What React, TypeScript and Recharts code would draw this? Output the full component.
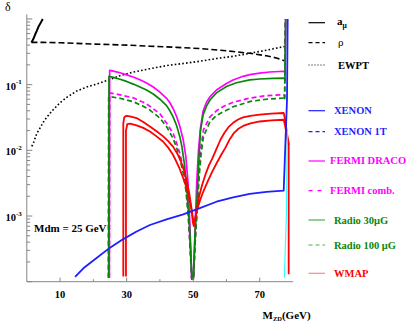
import * as React from "react"
import { LineChart, Line, XAxis, YAxis } from "recharts"

// Dark-matter limits on δ versus M_ZD (Mdm = 25 GeV)

type Pt = [number, number]

const X_TICKS = [10, 20, 30, 40, 50, 60, 70]
const X_LABELS = [10, 30, 50, 70]
const Y_DECADES = [1e-4, 1e-3, 1e-2, 1e-1, 1]
const Y_MINOR_STEPS = [2, 3, 4, 5, 6, 7, 8, 9]
const Y_LABELS: Record<string, string> = { "0.1": "-1", "0.01": "-2", "0.001": "-3" }

const A_MU: Pt[] = [[1.4, 0.44], [2, 0.5], [2.5, 0.58], [3, 0.66], [3.5, 0.76], [4.2, 0.88], [4.8, 1.0]]

const RHO: Pt[] = [
  [1.4, 0.44], [5, 0.44], [10, 0.435], [20, 0.415], [30, 0.4], [37, 0.385], [45, 0.37], [52, 0.355],
  [58, 0.335], [62, 0.32], [67, 0.3], [72, 0.275], [75, 0.255], [77.8, 0.227],
]

const EWPT: Pt[] = [
  [1.5, 0.0115], [2, 0.013], [3, 0.018], [4, 0.022], [5, 0.027], [6, 0.032], [8, 0.042], [10, 0.053],
  [12, 0.064], [15, 0.08], [18, 0.092], [22, 0.106], [25, 0.12], [28, 0.137], [32, 0.155], [37, 0.175],
  [42, 0.195], [47, 0.21], [52, 0.227], [57, 0.25], [62, 0.27], [67, 0.3], [72, 0.335], [77.8, 0.385],
]

const XENON: Pt[] = [
  [14.5, 1.18e-4], [17, 1.6e-4], [20, 2.1e-4], [25, 3.3e-4], [29, 4.45e-4], [33, 5.8e-4], [37, 7.3e-4],
  [42, 8.9e-4], [47, 1.06e-3], [52, 1.32e-3], [57, 1.65e-3], [62, 1.93e-3], [67, 2.17e-3], [72, 2.33e-3],
  [77.2, 2.43e-3], [78.2, 0.06], [78.4, 1.0],
]

const FERMI_DRACO: Pt[] = [
  [24.8, 1.15e-4], [24.9, 0.165], [26, 0.161], [28, 0.152], [30, 0.141], [32, 0.131], [34, 0.119],
  [36, 0.106], [38, 0.092], [40, 0.077], [42, 0.062], [43, 0.053], [44, 0.043], [45, 0.033], [46, 0.023],
  [47, 0.0145], [47.8, 0.008], [48.4, 0.0035], [48.9, 0.001], [49.3, 3e-4], [49.6, 1.1e-4],
  [50.1, 1.1e-4], [50.4, 3e-4], [50.7, 0.001], [51.1, 0.0035], [51.6, 0.01], [52.2, 0.022], [53, 0.04],
  [54, 0.054], [55, 0.065], [57, 0.083], [60, 0.104], [62, 0.118], [65, 0.134], [67, 0.142], [70, 0.15],
  [73, 0.156], [77.3, 0.16], [77.6, 0.15], [77.8, 1.0],
]

const FERMI_COMB: Pt[] = [
  [24.8, 1.15e-4], [24.9, 0.075], [28, 0.07], [32, 0.063], [35, 0.054], [37, 0.047], [40, 0.036],
  [42, 0.026], [44, 0.018], [45, 0.013], [46, 0.009], [47, 0.0055], [47.8, 0.003], [48.5, 0.0012],
  [49, 4e-4], [49.5, 1.1e-4], [50.1, 1.1e-4], [50.6, 4e-4], [51.1, 0.0012], [51.8, 0.005], [52.3, 0.011],
  [53.1, 0.0206], [55, 0.032], [57, 0.04], [59.2, 0.047], [62, 0.054], [67.2, 0.0627], [72, 0.068],
  [77.2, 0.0704], [77.5, 0.065], [77.7, 1.0],
]

const RADIO_30: Pt[] = [
  [24.6, 1.15e-4], [24.7, 0.134], [26, 0.129], [28, 0.121], [30, 0.112], [32, 0.102], [34, 0.092],
  [36, 0.083], [38, 0.072], [40, 0.06], [42, 0.048], [43, 0.04], [44, 0.032], [45, 0.024], [46, 0.016],
  [46.6, 0.0115], [47.4, 0.006], [48.2, 0.0022], [48.9, 7e-4], [49.6, 1.1e-4], [50.0, 1.1e-4],
  [50.6, 6e-4], [51.2, 0.002], [51.7, 0.007], [52.2, 0.02], [53, 0.035], [54, 0.047], [55.1, 0.059],
  [57, 0.075], [60, 0.094], [63, 0.107], [67, 0.118], [70, 0.122], [74, 0.125], [77.3, 0.126],
  [77.6, 0.12], [77.8, 1.0],
]

const RADIO_100: Pt[] = [
  [24.5, 1.15e-4], [24.6, 0.066], [28, 0.062], [32, 0.055], [35, 0.047], [37, 0.041], [40, 0.031],
  [42, 0.023], [44, 0.015], [45, 0.011], [46, 0.0075], [47, 0.0045], [47.8, 0.0025], [48.5, 0.001],
  [49, 4e-4], [49.6, 1.1e-4], [50.1, 1.1e-4], [50.6, 4e-4], [51.1, 0.001], [51.8, 0.004], [52.4, 0.009],
  [53.1, 0.0163], [55, 0.027], [57, 0.034], [59.2, 0.039], [62, 0.046], [67.2, 0.0557], [72, 0.06],
  [77.2, 0.0627], [77.5, 0.058], [77.7, 1.0],
]

const WMAP_UPPER: Pt[] = [
  [29, 1.2e-4], [29, 0.026], [29.3, 0.032], [29.9, 0.0336], [31, 0.033], [33, 0.031], [35, 0.027],
  [37, 0.0231], [39, 0.0195], [41, 0.0163], [42.5, 0.0138], [44, 0.0113], [45.3, 0.0088], [46.4, 0.0066],
  [47.4, 0.0047], [48.2, 0.0032], [48.9, 0.0021], [49.5, 0.0013], [49.9, 8e-4], [50.2, 7e-4],
  [50.6, 9e-4], [51.1, 0.0013], [51.8, 0.002], [52.7, 0.003], [53.7, 0.0043], [54.8, 0.006],
  [55.8, 0.0076], [57, 0.0105], [58.2, 0.0145], [59.4, 0.0185], [60.6, 0.0225], [62, 0.0262],
  [63.5, 0.0295], [65, 0.0317], [67.2, 0.0336], [70, 0.035], [73.5, 0.0362], [77.2, 0.037],
  [77.6, 0.03], [78.2, 0.018], [78.7, 0.013], [78.7, 1.3e-4],
]

const WMAP_LOWER: Pt[] = [
  [29.8, 1.2e-4], [29.8, 0.02], [30.2, 0.025], [31, 0.0255], [33, 0.024], [35, 0.022], [37, 0.0194],
  [39, 0.0163], [41, 0.0135], [42.5, 0.011], [43.8, 0.0088], [44.8, 0.007], [45.9, 0.0053],
  [46.9, 0.0039], [47.8, 0.0029], [48.6, 0.0021], [49.2, 0.0015], [49.7, 0.0011], [50.1, 8e-4],
  [50.6, 9e-4], [51.1, 0.0012], [52, 0.0017], [53.1, 0.0024], [54.4, 0.0034], [55.7, 0.0047],
  [57, 0.0063], [58.4, 0.0085], [59.7, 0.011], [61, 0.0148], [62.3, 0.0185], [63.6, 0.0213],
  [65, 0.0235], [67.2, 0.0258], [70, 0.0275], [73.5, 0.0286], [77.2, 0.0292], [77.6, 0.024],
  [78.2, 0.016], [78.7, 0.012],
]

const CYAN_EDGE: Pt[] = [[77.4, 1.15e-4], [78.0, 1e-3], [78.3, 0.02]]

const FRAME = "#858585"
const BLUE = "#1f1fff"
const MAGENTA = "#ff00ff"
const GREEN = "#0a870a"
const RED = "#ff0000"
const FONT = "'Liberation Serif', 'Times New Roman', serif"

const yTicks: number[] = []
Y_DECADES.forEach((d) => {
  yTicks.push(d)
  if (d < 1) Y_MINOR_STEPS.forEach((m) => yTicks.push(d * m))
})

const rows = (pts: Pt[]) => pts.map(([x, y]) => ({ x, y }))

const isDecade = (v: number) => Y_DECADES.some((d) => Math.abs(v - d) < d * 1e-6)

function BottomTick(props: any) {
  const { x, y, payload } = props
  const major = X_LABELS.includes(payload.value)
  return (
    <g>
      <line x1={x} y1={y} x2={x} y2={y - (major ? 4 : 2.5)} stroke={FRAME} />
      {major && (
        <text x={x} y={y + 16} textAnchor="middle" fontFamily={FONT} fontWeight="bold" fontSize={10.5} fill="#000">
          {payload.value}
        </text>
      )}
    </g>
  )
}

function TopTick(props: any) {
  const { x, y, payload } = props
  const major = X_LABELS.includes(payload.value)
  return <line x1={x} y1={y} x2={x} y2={y + (major ? 4 : 2.5)} stroke={FRAME} />
}

function LeftTick(props: any) {
  const { x, y, payload } = props
  const major = isDecade(payload.value)
  const sup = Y_LABELS[String(payload.value)]
  return (
    <g>
      <line x1={x} y1={y} x2={x + (major ? 5.5 : 3.3)} y2={y} stroke={FRAME} />
      {sup && (
        <text x={5.5} y={y + 5} fontFamily={FONT} fontWeight="bold" fontSize={10.5} fill="#000">
          10
          <tspan dy={-5.5} fontSize={7}>{sup}</tspan>
        </text>
      )}
    </g>
  )
}

function RightTick(props: any) {
  const { x, y, payload } = props
  const major = isDecade(payload.value)
  return <line x1={x} y1={y} x2={x - (major ? 5.5 : 3.3)} y2={y} stroke={FRAME} />
}

const LEGEND = [
  { y: 22.7, color: "#000", dash: undefined, w: 1.2 },
  { y: 42.7, color: "#000", dash: "4 3", w: 1.2 },
  { y: 65, color: "#000", dash: "1 2", w: 1 },
  { y: 110.7, color: BLUE, dash: undefined, w: 1.2 },
  { y: 131.7, color: BLUE, dash: "4 3", w: 1.2 },
  { y: 161, color: MAGENTA, dash: undefined, w: 1.2 },
  { y: 190.7, color: MAGENTA, dash: "4 5", w: 1.2 },
  { y: 220, color: "#4cb04c", dash: undefined, w: 1.2 },
  { y: 245, color: "#4cb04c", dash: "4 3", w: 1.2 },
  { y: 273.3, color: "#ff8a8a", dash: undefined, w: 1.2 },
]

function series(pts: Pt[], color: string, width: number, dash?: string) {
  return (
    <Line
      xAxisId="b"
      yAxisId="l"
      data={rows(pts)}
      dataKey="y"
      type="linear"
      stroke={color}
      strokeWidth={width}
      strokeDasharray={dash}
      strokeLinejoin="round"
      dot={false}
      activeDot={false}
      isAnimationActive={false}
    />
  )
}

export default function App() {
  return (
    <div style={{ position: "absolute", left: 0, top: 0, width: 415, height: 324, background: "#fff" }}>
      <LineChart width={415} height={324} margin={{ top: 14.5, right: 122, bottom: 0, left: 0 }}>
        <XAxis
          xAxisId="b"
          type="number"
          dataKey="x"
          domain={[0, 80]}
          ticks={X_TICKS}
          interval={0}
          allowDataOverflow
          height={42.3}
          axisLine={{ stroke: FRAME }}
          tickLine={false}
          tickSize={0}
          tickMargin={0}
          tick={BottomTick}
        />
        <XAxis
          xAxisId="t"
          orientation="top"
          type="number"
          dataKey="x"
          domain={[0, 80]}
          ticks={X_TICKS}
          interval={0}
          allowDataOverflow
          height={0}
          axisLine={{ stroke: FRAME }}
          tickLine={false}
          tickSize={0}
          tickMargin={0}
          tick={TopTick}
        />
        <YAxis
          yAxisId="l"
          type="number"
          scale="log"
          domain={[1e-4, 1.17]}
          ticks={yTicks}
          interval={0}
          allowDataOverflow
          width={26.8}
          axisLine={{ stroke: FRAME }}
          tickLine={false}
          tickSize={0}
          tickMargin={0}
          tick={LeftTick}
        />
        <YAxis
          yAxisId="r"
          orientation="right"
          type="number"
          scale="log"
          domain={[1e-4, 1.17]}
          ticks={yTicks}
          interval={0}
          allowDataOverflow
          width={0}
          axisLine={{ stroke: FRAME }}
          tickLine={false}
          tickSize={0}
          tickMargin={0}
          tick={RightTick}
        />
        {series(EWPT, "#000", 1.6, "1.6 2.2")}
        {series(RHO, "#000", 1.6, "6 3")}
        {series(A_MU, "#000", 2)}
        {series(FERMI_DRACO, MAGENTA, 1.7)}
        {series(FERMI_COMB, MAGENTA, 1.7, "5 3")}
        {series(RADIO_30, GREEN, 1.7)}
        {series(RADIO_100, GREEN, 1.7, "5 3")}
        {series(WMAP_UPPER, RED, 1.8)}
        {series(WMAP_LOWER, RED, 1.8)}
        {series(CYAN_EDGE, "#33ffff", 1.2)}
        {series(XENON, BLUE, 1.8)}
      </LineChart>

      <svg
        width={415}
        height={324}
        style={{ position: "absolute", left: 0, top: 0, pointerEvents: "none" }}
        fontFamily={FONT}
      >
        <text x={5} y={10.5} fontSize={12} fill="#000">δ</text>
        <text x={34} y={232} fontSize={11} fontWeight="bold" fill="#000">Mdm = 25 GeV</text>
        <text x={262.5} y={318.5} fontSize={11} fontWeight="bold" fill="#000">
          M<tspan dy={2.5} fontSize={6.5}>ZD</tspan>
          <tspan dy={-2.5}>(GeV)</tspan>
        </text>

        {LEGEND.map((l, i) => (
          <line key={i} x1={308.5} x2={325} y1={l.y} y2={l.y} stroke={l.color} strokeWidth={l.w} strokeDasharray={l.dash} />
        ))}

        <text x={337} y={25} fontSize={11} fontWeight="bold" fill="#000">
          a<tspan dy={3} fontSize={7.5}>μ</tspan>
        </text>
        <text x={338} y={46} fontSize={11} fill="#000">ρ</text>
        <text x={338} y={68.5} fontSize={10.5} fontWeight="bold" fill="#000">EWPT</text>
        <text x={334} y={114.3} fontSize={10.5} fontWeight="bold" fill={BLUE}>XENON</text>
        <text x={334} y={135.3} fontSize={10.5} fontWeight="bold" fill={BLUE}>XENON 1T</text>
        <text x={330} y={163.5} fontSize={10.5} fontWeight="bold" fill={MAGENTA}>FERMI DRACO</text>
        <text x={330} y={194.3} fontSize={10.5} fontWeight="bold" fill={MAGENTA}>FERMI comb.</text>
        <text x={334} y={223.5} fontSize={10.5} fontWeight="bold" fill={GREEN}>Radio 30μG</text>
        <text x={334} y={248.5} fontSize={10.5} fontWeight="bold" fill={GREEN}>Radio 100 μG</text>
        <text x={334} y={277} fontSize={10.5} fontWeight="bold" fill={RED}>WMAP</text>
      </svg>
    </div>
  )
}
